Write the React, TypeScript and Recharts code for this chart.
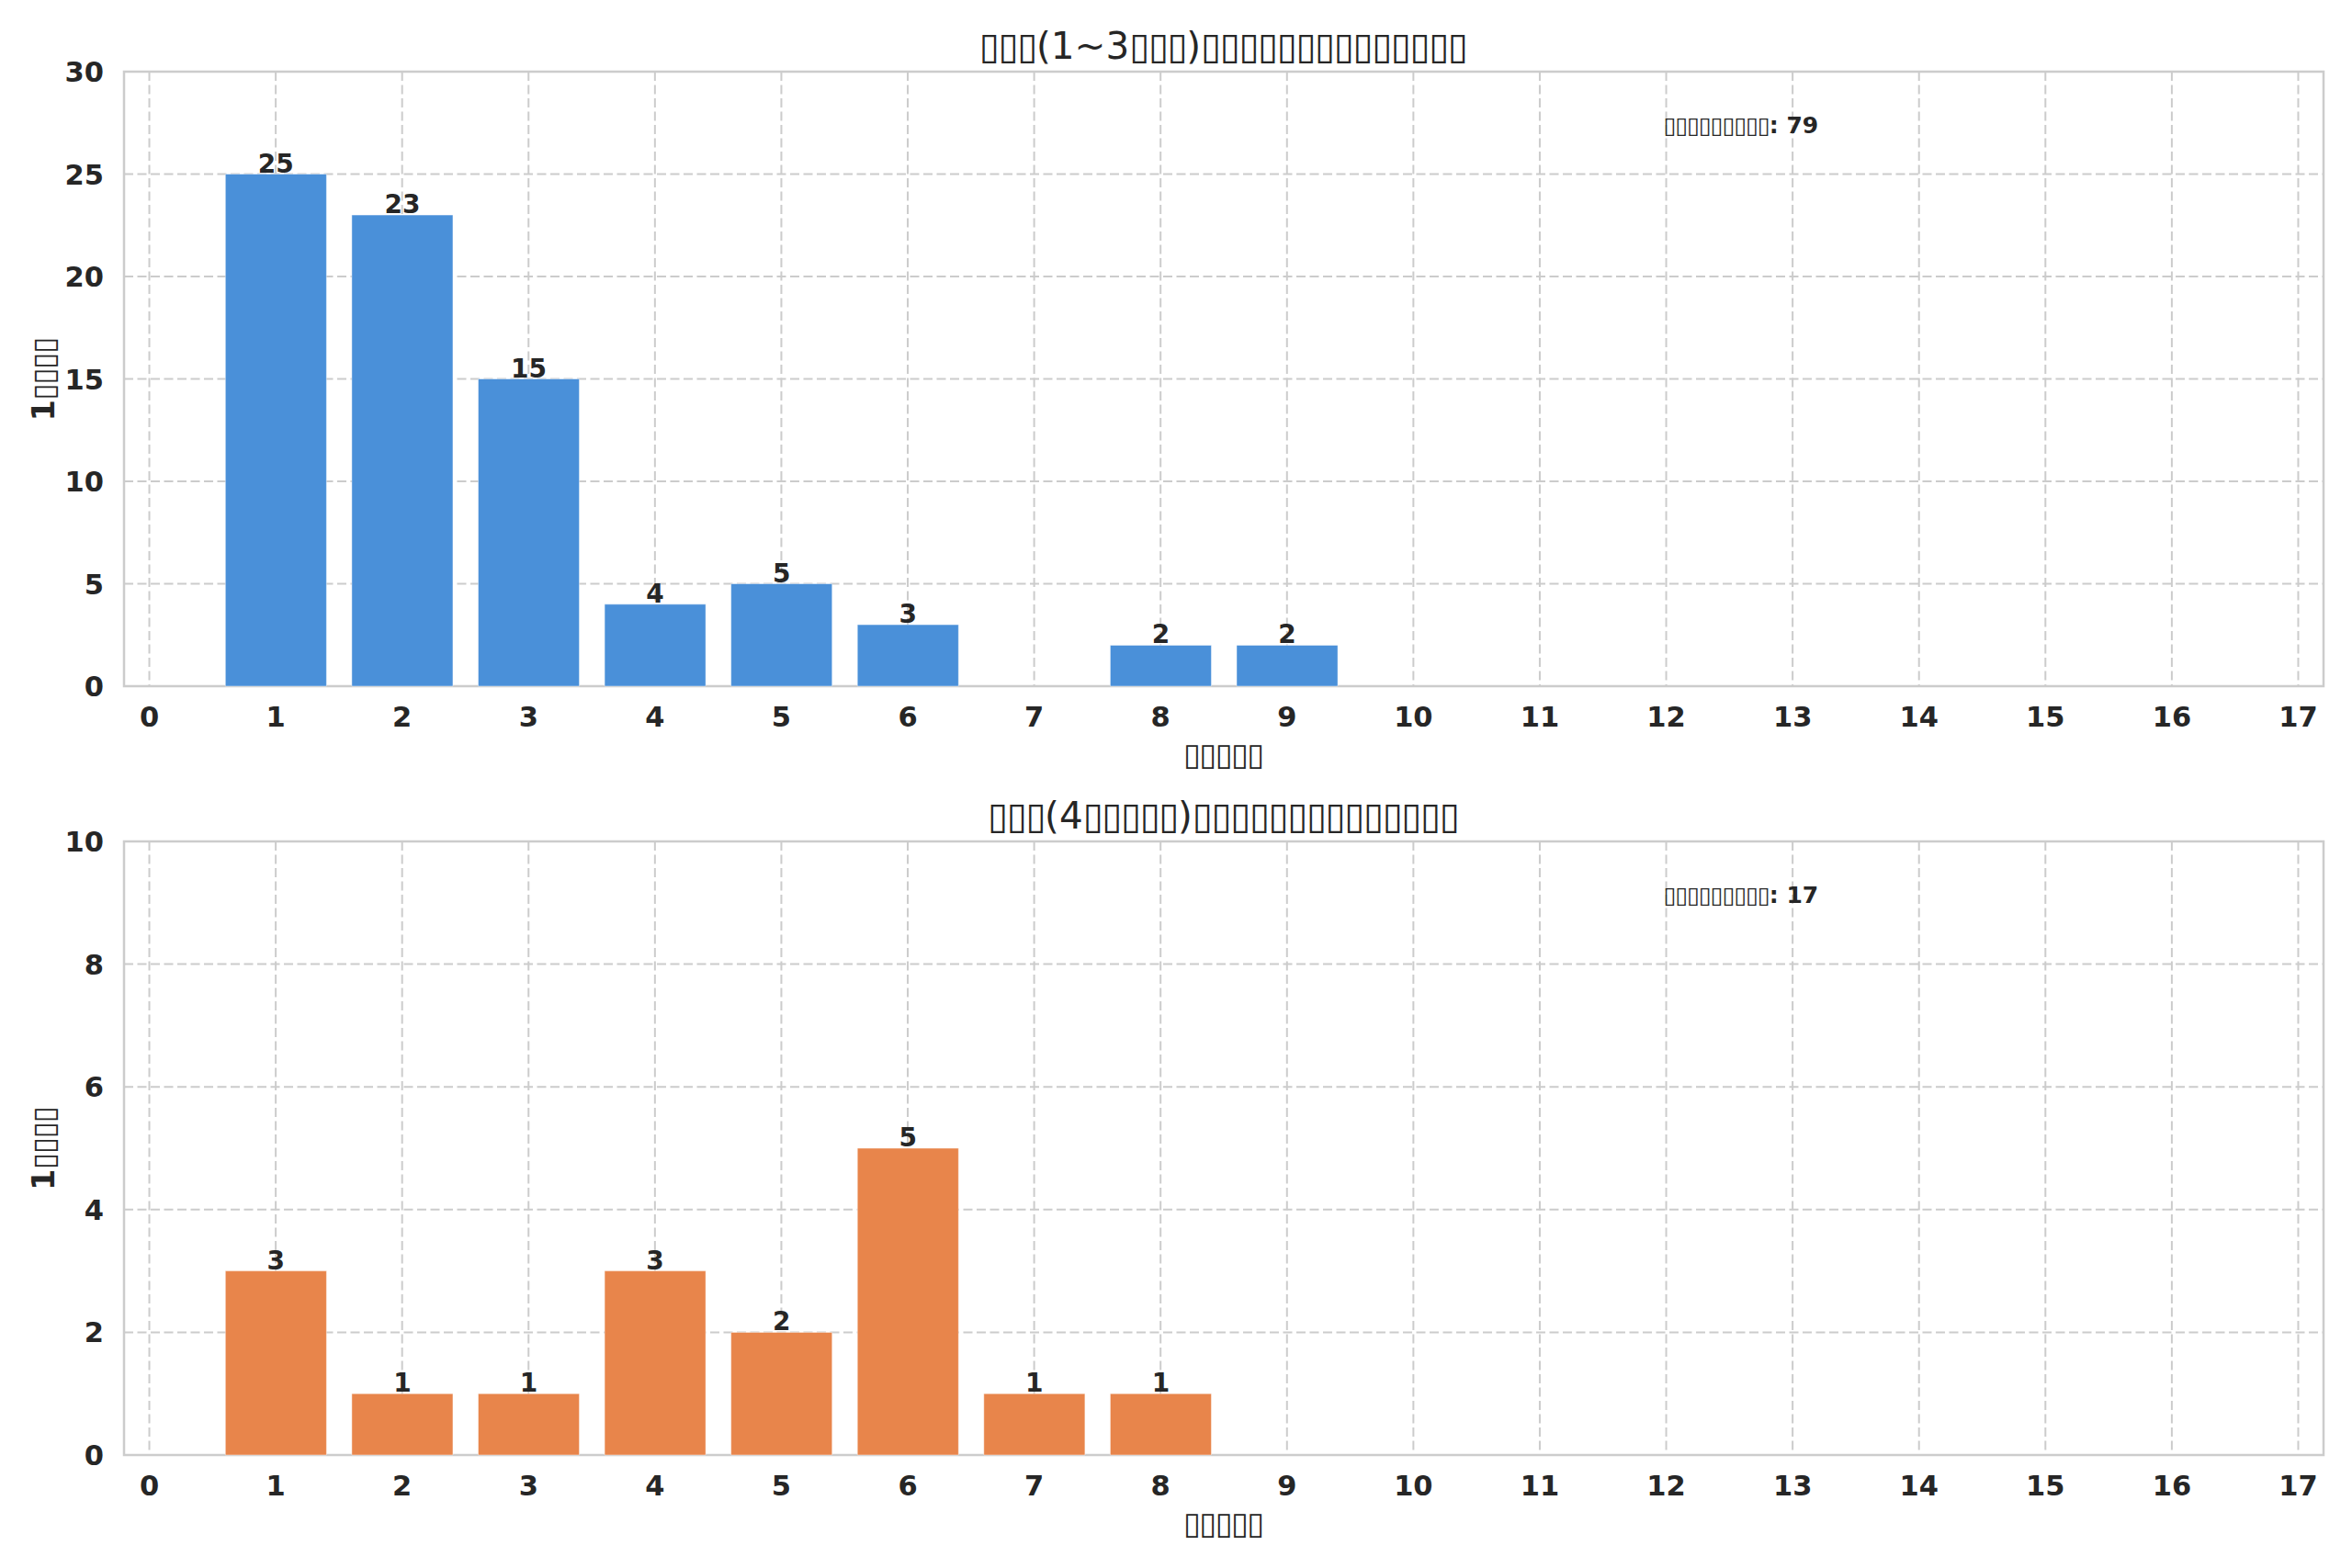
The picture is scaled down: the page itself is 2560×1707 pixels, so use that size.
import React from 'react';
import {
  BarChart,
  Bar,
  XAxis,
  YAxis,
  CartesianGrid,
  ReferenceArea,
  LabelList,
  Label,
} from 'recharts';

const dayTicks = [0, 1, 2, 3, 4, 5, 6, 7, 8, 9, 10, 11, 12, 13, 14, 15, 16, 17];

const groupADays = [1, 2, 3, 4, 5, 6, 8, 9];
const groupACounts = [25, 23, 15, 4, 5, 3, 2, 2];
const groupAYTicks = [0, 5, 10, 15, 20, 25, 30];
const groupATotal = 79;

const groupBDays = [1, 2, 3, 4, 5, 6, 7, 8];
const groupBCounts = [3, 1, 1, 3, 2, 5, 1, 1];
const groupBYTicks = [0, 2, 4, 6, 8, 10];
const groupBTotal = 17;

// the source figure lost its CJK glyphs, so every missing character shows as a box
const groupATitle = '▯▯▯(1~3▯▯▯)▯▯▯▯▯▯▯▯▯▯▯▯▯▯';
const groupBTitle = '▯▯▯(4▯▯▯▯▯)▯▯▯▯▯▯▯▯▯▯▯▯▯▯';
const xLabelText = '▯▯▯▯▯';
const yLabelText = '1▯▯▯▯';
const totalText = '▯▯▯▯▯▯▯▯▯';

const FONT = '"DejaVu Sans", Verdana, sans-serif';
const INK = '#262626';
const EDGE = '#cccccc';
const X_DOMAIN: [number, number] = [-0.2, 17.2];
const W = 2560;
const Y_AXIS_W = 135;
const RIGHT = 31;
const PLOT_W = W - Y_AXIS_W - RIGHT;
const BAR_W = (PLOT_W / (X_DOMAIN[1] - X_DOMAIN[0])) * 0.8;

// a missing glyph is about half an em wide; nudge the char after each box to match
const BOX = '▯';
const BOX_NATURAL = 0.54;
const BOX_WANTED = 0.5;

const BoxText = ({ text, fontSize, ...rest }: any) => {
  const chars = Array.from(text as string);
  const dx = chars.map((_, i) => (i > 0 && chars[i - 1] === BOX ? (BOX_WANTED - BOX_NATURAL) * fontSize : 0));
  return (
    <text fontFamily={FONT} fill={INK} fontSize={fontSize} dx={dx.join(' ')} {...rest}>
      {text}
    </text>
  );
};

const XTick = ({ x, y, payload }: any) => (
  <text x={x} y={y + 44} textAnchor="middle" fontFamily={FONT} fontWeight="bold" fontSize={30.5} fill={INK}>
    {payload.value}
  </text>
);

const YTick = ({ x, y, payload }: any) => (
  <text x={x - 22} y={y + 11} textAnchor="end" fontFamily={FONT} fontWeight="bold" fontSize={30.5} fill={INK}>
    {payload.value}
  </text>
);

const BarValue = ({ x, y, width, value }: any) => (
  <text x={x + width / 2} y={y - 2} textAnchor="middle" fontFamily={FONT} fontWeight="bold" fontSize={28} fill={INK}>
    {value}
  </text>
);

type PanelProps = {
  days: number[];
  counts: number[];
  yTicks: number[];
  title: string;
  total: number;
  color: string;
  height: number;
  marginTop: number;
  xAxisHeight: number;
};

const Panel = ({ days, counts, yTicks, title, total, color, height, marginTop, xAxisHeight }: PanelProps) => {
  const data = days.map((d, i) => ({ day: d, count: counts[i] }));
  const yMax = yTicks[yTicks.length - 1];

  return (
    <BarChart
      width={W}
      height={height}
      data={data}
      margin={{ top: marginTop, right: RIGHT, left: 0, bottom: 0 }}
    >
      <CartesianGrid stroke={EDGE} strokeWidth={2} strokeDasharray="10 4.5" />
      <XAxis
        dataKey="day"
        type="number"
        domain={X_DOMAIN}
        ticks={dayTicks}
        interval={0}
        allowDataOverflow
        axisLine={false}
        tickLine={false}
        tickSize={0}
        tickMargin={0}
        height={xAxisHeight}
        tick={<XTick />}
        label={{
          content: ({ viewBox }: any) => (
            <BoxText
              text={xLabelText}
              x={viewBox.x + viewBox.width / 2}
              y={viewBox.y + 86}
              textAnchor="middle"
              fontSize={34}
            />
          ),
        }}
      />
      <YAxis
        type="number"
        domain={[0, yMax]}
        ticks={yTicks}
        interval={0}
        axisLine={false}
        tickLine={false}
        tickSize={0}
        tickMargin={0}
        width={Y_AXIS_W}
        tick={<YTick />}
        label={{
          content: ({ viewBox }: any) => {
            const cx = 59;
            const cy = viewBox.y + viewBox.height / 2;
            return (
              <BoxText
                text={yLabelText}
                x={cx}
                y={cy}
                transform={`rotate(-90 ${cx} ${cy})`}
                textAnchor="middle"
                fontWeight="bold"
                fontSize={33}
              />
            );
          },
        }}
      />
      <Bar dataKey="count" fill={color} stroke="#ffffff" strokeOpacity={0.45} strokeWidth={1} barSize={BAR_W} isAnimationActive={false}>
        <LabelList dataKey="count" content={<BarValue />} />
      </Bar>
      <ReferenceArea
        x1={X_DOMAIN[0]}
        x2={X_DOMAIN[1]}
        y1={0}
        y2={yMax}
        fill="none"
        fillOpacity={0}
        stroke={EDGE}
        strokeWidth={2.5}
        ifOverflow="visible"
      >
        <Label
          content={({ viewBox }: any) => (
            <g>
              <BoxText
                text={title}
                x={viewBox.x + viewBox.width / 2}
                y={viewBox.y - 14}
                textAnchor="middle"
                fontSize={40.5}
              />
              <BoxText
                text={`${totalText}: ${total}`}
                x={viewBox.x + viewBox.width * 0.7}
                y={viewBox.y + viewBox.height * 0.1}
                fontWeight="bold"
                fontSize={25}
              />
            </g>
          )}
        />
      </ReferenceArea>
    </BarChart>
  );
};

const App = () => (
  <div style={{ width: W, height: 1707, background: '#ffffff', fontFamily: FONT }}>
    <style>{'body { margin: 0; }'}</style>
    <Panel
      days={groupADays}
      counts={groupACounts}
      yTicks={groupAYTicks}
      title={groupATitle}
      total={groupATotal}
      color="#4a90d9"
      height={853}
      marginTop={78}
      xAxisHeight={106}
    />
    <Panel
      days={groupBDays}
      counts={groupBCounts}
      yTicks={groupBYTicks}
      title={groupBTitle}
      total={groupBTotal}
      color="#e8854b"
      height={854}
      marginTop={63}
      xAxisHeight={123}
    />
  </div>
);

export default App;
